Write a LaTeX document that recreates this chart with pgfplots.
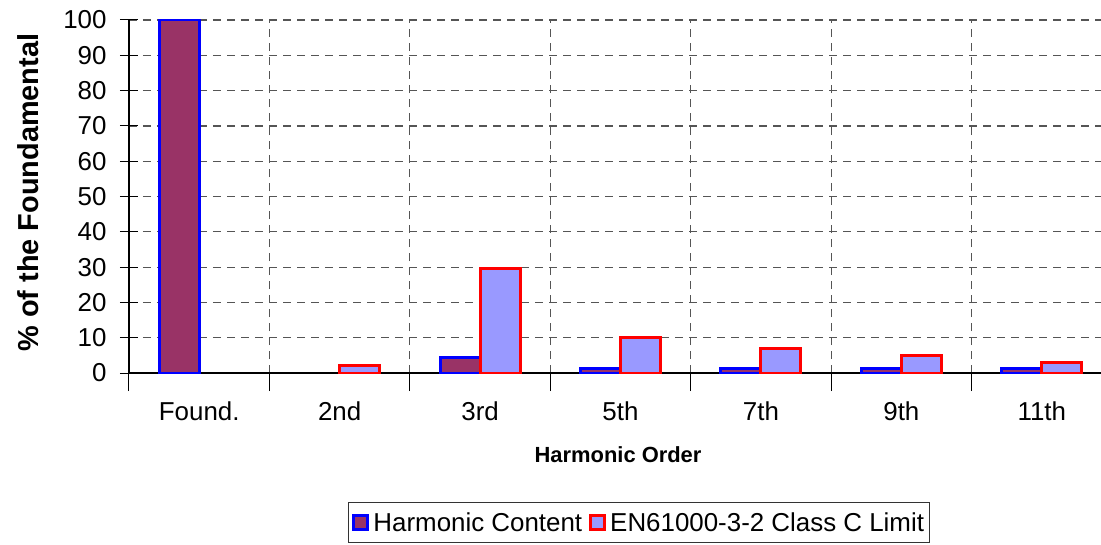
\documentclass[border=0pt]{standalone}
\usepackage{pgfplots}
\pgfplotsset{compat=1.18}
\usepackage{fontspec}
\setmainfont{Liberation Sans}
\definecolor{cpurple}{HTML}{993366}
\definecolor{clav}{HTML}{9999FF}
\definecolor{gridc}{HTML}{555555}
\begin{document}
\begin{tikzpicture}
\begin{axis}[
  at={(0,0)}, anchor=south west,
  scale only axis, width=983bp, height=353bp,
  xmin=-0.5, xmax=6.5, ymin=0, ymax=100,
  ytick={0,10,...,100},
  xtick={-0.5,0.5,...,6.5}, xticklabels={},
  extra x ticks={0,1,2,3,4,5,6},
  extra x tick labels={Found.,2nd,3rd,5th,7th,9th,11th},
  extra x tick style={grid=none, major tick length=0pt},
  grid=major,
  major grid style={gridc, dash pattern=on 8bp off 6bp, line width=1.2bp},
  axis lines=left, axis line style={-, line width=1.3bp, black},
  tick align=center, major tick length=18bp,
  tick style={black, line width=1bp},
  /pgf/number format/assume math mode=true,
  yticklabel style={font=\fontsize{26}{31}\selectfont, xshift=-10bp},
  xticklabel style={font=\fontsize{26}{31}\selectfont, yshift=-25bp},
  ylabel={\% of the Foundamental},
  ylabel style={at={(axis description cs:-0.1027,0.511)}, anchor=center, font=\bfseries\fontsize{29}{34}\selectfont},
  xlabel={Harmonic Order},
  xlabel style={at={(axis description cs:0.4975,-0.2323)}, anchor=center, font=\bfseries\fontsize{22}{26}\selectfont},
  ybar=0pt, bar width=40bp,
  legend columns=2,
  legend style={at={(axis description cs:0.2228,-0.3654)}, anchor=north west,
    draw=black!80, line width=1bp, font=\fontsize{26}{31}\selectfont,
    inner xsep=3bp, inner ysep=8bp,
    /tikz/every even column/.append style={column sep=4bp}},
]
\addplot[fill=cpurple, draw=blue, line width=3bp,
  legend image code/.code={\draw[fill=cpurple, draw=blue, line width=3bp] (2bp,-7bp) rectangle (16bp,7bp); \path[draw=none, fill=none] (0bp,0bp) -- (20bp,0bp);}]
  coordinates {(0,100) (2,4.5) (3,1.2) (4,1.2) (5,1.2) (6,1.2)};
\addplot[fill=clav, draw=red, line width=3bp,
  legend image code/.code={\draw[fill=clav, draw=red, line width=3bp] (2bp,-7bp) rectangle (16bp,7bp); \path[draw=none, fill=none] (0bp,0bp) -- (20bp,0bp);}]
  coordinates {(1,2) (2,29.7) (3,10) (4,7) (5,5) (6,3)};
\legend{Harmonic Content, EN61000-3-2 Class C Limit}
\end{axis}
\pgfresetboundingbox
\useasboundingbox (-129bp,-172bp) rectangle (972bp,373bp);
\end{tikzpicture}
\end{document}
